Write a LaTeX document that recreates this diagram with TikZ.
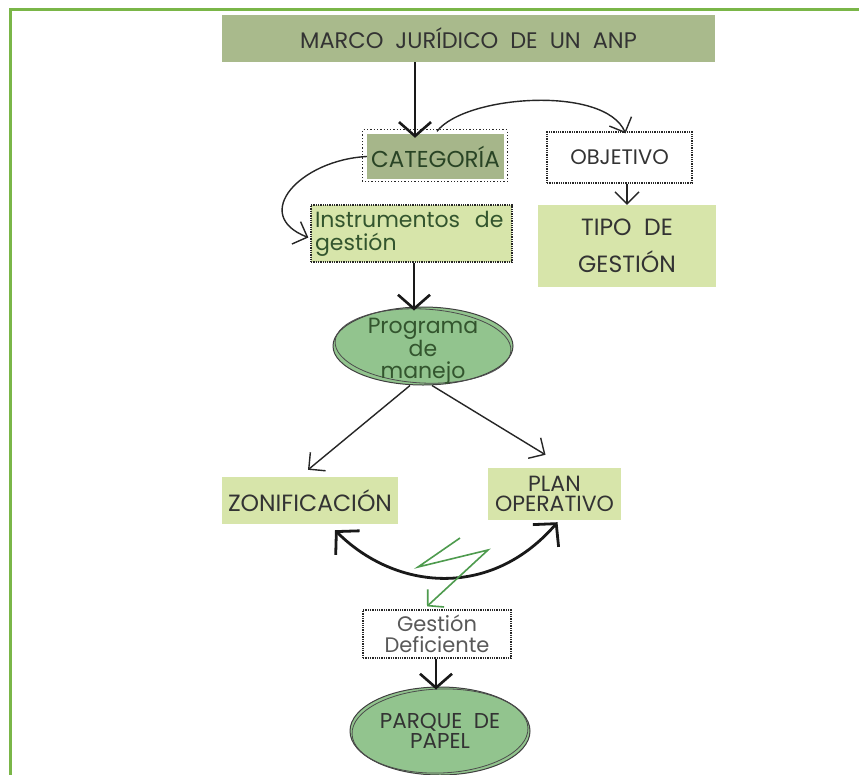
\documentclass[tikz,border=0pt]{standalone}
\usepackage{fontspec}
\setmainfont{Poppins}
\usetikzlibrary{shapes.geometric,arrows.meta,calc}
\definecolor{framegreen}{HTML}{7AB648}
\definecolor{olivebox}{HTML}{A9BA8C}
\definecolor{olivecat}{HTML}{A6B68A}
\definecolor{lightbox}{HTML}{D7E5AA}
\definecolor{ellgreen}{HTML}{92C48E}
\definecolor{darkgreen}{HTML}{33552E}
\definecolor{zig}{HTML}{4E9B4E}
\definecolor{txt}{HTML}{333333}
\tikzset{
  box/.style={rectangle, inner sep=0pt, align=center, text=txt},
  olive/.style={box, fill=olivebox},
  light/.style={box, fill=lightbox},
  dotbox/.style={draw=black!85, line width=1.3pt, dotted},
  ell/.style={ellipse, draw=black!75, line width=1pt, fill=ellgreen, inner sep=0pt, align=center},
  heavy/.style={draw=black!90, line width=2.6pt, -{Straight Barb[length=14pt,width=32pt,line width=2.6pt]}},
  slim/.style={draw=black!85, line width=1.4pt, -{Straight Barb[length=12pt,width=24pt,line width=1.4pt]}},
  both/.style={draw=black!90, line width=2.8pt, {Straight Barb[length=16pt,width=34pt,line width=2.8pt]}-{Straight Barb[length=16pt,width=34pt,line width=2.8pt]}},
  zigline/.style={draw=zig, line width=1.6pt, line join=miter, -{Straight Barb[length=11pt,width=24pt,line width=1.6pt]}},
}
\begin{document}
\begin{tikzpicture}[x=1pt,y=-1pt]
\useasboundingbox (0,0) rectangle (859,774);
\fill[white] (0,0) rectangle (859,774);
% frame
\draw[framegreen, line width=3pt] (10.5,776) -- (10.5,9.5) -- (861,9.5);

% nodes
\node[olive, minimum width=493pt, minimum height=47pt, font=\fontsize{22.5}{24}\selectfont] (title) at (468.5,38.5) {MARCO\ \ JURÍDICO\ \ DE\ \ UN\ \ ANP};

\node[box, fill=olivecat, minimum width=137pt, minimum height=45pt, text=darkgreen!80!black, font=\fontsize{23}{24}\selectfont] (cat) at (435.5,156.5) {CATEGORÍA};
\draw[dotbox] ([shift={(-4pt,-2.5pt)}]cat.south west) rectangle ([shift={(3pt,4pt)}]cat.north east);

\node[box, draw=black!85, line width=1.3pt, densely dotted, minimum width=145pt, minimum height=51pt, font=\fontsize{21}{22}\selectfont] (obj) at (619.5,157.5) {OBJETIVO};

\node[light, minimum width=178pt, minimum height=82pt, font=\fontsize{23.5}{37}\selectfont] (tipo) at (627,246) {TIPO\ \ DE\\GESTIÓN};

\node[box, fill=lightbox, draw=black!85, line width=1.3pt, densely dotted, minimum width=201pt, minimum height=57pt, text width=193pt, align=left, text=darkgreen, font=\fontsize{22}{23}\selectfont] (inst) at (411.5,233.5) {Instrumentos\ \ de\\gestión};

\node[ell, minimum width=180pt, minimum height=78pt] (prog) at (423,346) {};
\draw[black!70, line width=0.8pt, rotate around={-3:(423,346)}] (423,346) ellipse [x radius=88pt, y radius=37pt];
\node[box, text=darkgreen, font=\fontsize{22}{22}\selectfont] (progtext) at (423,351) {Programa\\de\\manejo};

\node[light, minimum width=176pt, minimum height=47pt, font=\fontsize{23.5}{24}\selectfont] (zon) at (310,500.5) {ZONIFICACIÓN};

\node[light, minimum width=133pt, minimum height=52pt, font=\fontsize{22}{20}\selectfont] (plan) at (554.5,494) {PLAN\\OPERATIVO};

\node[box, draw=black!85, line width=1.3pt, densely dotted, minimum width=148pt, minimum height=48pt, text=black!65, font=\fontsize{21}{21}\selectfont] (gest) at (437,634) {Gestión\\Deficiente};

\node[ell, minimum width=180pt, minimum height=88pt, text=txt, font=\fontsize{21.5}{20}\selectfont] (parque) at (440,731) {PARQUE\ \ DE\\PAPEL};
\draw[black!70, line width=0.8pt, rotate around={2:(440,731)}] (440,731) ellipse [x radius=88pt, y radius=42pt];

% connectors
\draw[heavy] ([xshift=-53.5pt]title.south) -- ([xshift=-20.5pt,yshift=-4pt]cat.north);
\draw[slim] ([xshift=1.5pt,yshift=2.5pt]cat.north) .. controls (465,95) and (605,85) .. ([xshift=6pt,yshift=-2pt]obj.north);
\draw[slim] (obj.south -| tipo.north) -- (tipo.north);
\draw[slim] (cat.west) .. controls (300,160) and (250,215) .. ([xshift=-2pt,yshift=-4pt]inst.west);
\draw[heavy] ([xshift=2.5pt]inst.south) -- ([xshift=-9pt,yshift=-4pt]prog.north);
\draw[slim] ([xshift=-13pt]prog.south) -- ([xshift=-2pt,yshift=7pt]zon.north);
\draw[slim] ([xshift=9pt]prog.south) -- ([xshift=-9pt,yshift=13pt]plan.north);
\draw[both] ([xshift=25pt,yshift=-6pt]zon.south) .. controls (395,590) and (490,600) .. ([xshift=3pt,yshift=-2pt]plan.south);
\coordinate (zs) at (460,538);
\draw[zigline] (zs) -- (418,567) -- (488,550) -- ([xshift=-10pt,yshift=3pt]gest.north);
\draw[heavy] ([xshift=-1pt]gest.south) -- ([xshift=-4pt,yshift=-3pt]parque.north);
\end{tikzpicture}
\end{document}
